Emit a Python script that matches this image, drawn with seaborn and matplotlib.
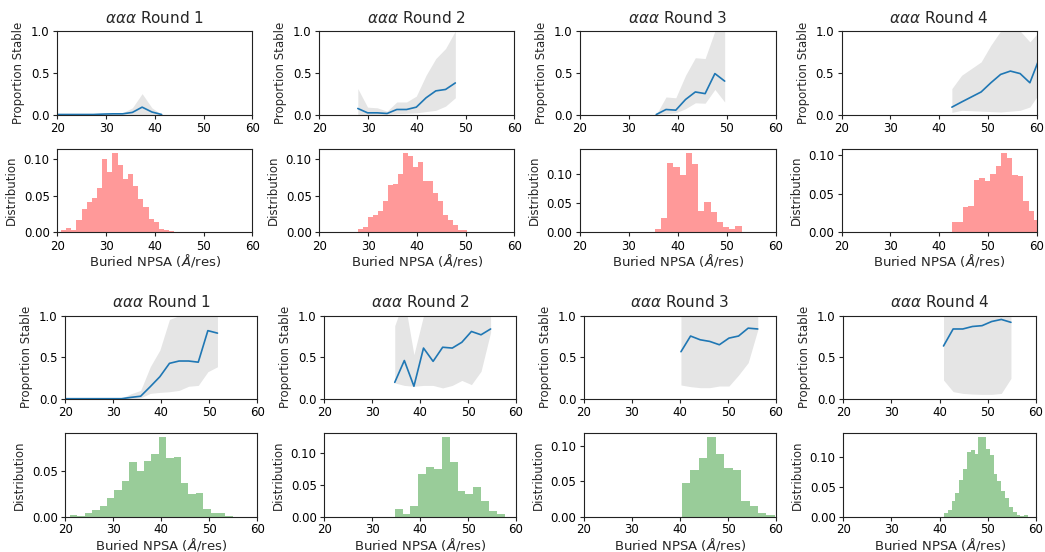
"""
Stability vs buried NPSA, four design rounds, two design sets.
Top pair of rows: red histograms; bottom pair: green histograms.
"""

import numpy as np
import pandas as pd
import matplotlib
matplotlib.use("Agg")
import matplotlib.pyplot as plt
import seaborn as sns

ROUNDS = ["Round 1", "Round 2", "Round 3", "Round 4"]
TOPOLOGY = r"$\alpha\alpha\alpha$"

# ---- top set: proportion stable (line + confidence band) ----
TOP_X = [
    [19.4, 21.4, 23.4, 25.4, 27.4, 29.4, 31.4, 33.4, 35.4, 37.4, 39.4, 41.4],
    [27.9, 29.9, 31.9, 33.9, 35.9, 37.9, 39.9, 41.9, 43.9, 45.9, 47.9],
    [35.6, 37.6, 39.6, 41.6, 43.6, 45.6, 47.6, 49.6],
    [42.6, 44.6, 46.6, 48.6, 50.6, 52.6, 54.6, 56.6, 58.6, 60.6],
]
TOP_MEAN = [
    [0, 0, 0, 0, 0, 0.005, 0.008, 0.008, 0.025, 0.088, 0.03, 0.0],
    [0.072, 0.02, 0.02, 0.012, 0.06, 0.06, 0.088, 0.20, 0.283, 0.30, 0.378],
    [0.0, 0.06, 0.052, 0.18, 0.27, 0.25, 0.49, 0.40],
    [0.088, 0.15, 0.21, 0.27, 0.38, 0.48, 0.52, 0.49, 0.38, 0.68],
]
TOP_HI = [
    [0, 0, 0, 0, 0, 0.01, 0.015, 0.02, 0.08, 0.25, 0.08, 0.0],
    [0.31, 0.088, 0.08, 0.04, 0.15, 0.15, 0.22, 0.47, 0.67, 0.79, 1.0],
    [0.0, 0.21, 0.20, 0.47, 0.68, 0.67, 1.0, 1.0],
    [0.31, 0.47, 0.55, 0.63, 0.83, 1.0, 1.0, 1.0, 0.87, 1.0],
]
TOP_LO = [
    [0] * 12,
    [0.0, 0.0, 0.0, 0.0, 0.01, 0.015, 0.02, 0.035, 0.05, 0.10, 0.2],
    [0.0, 0.01, 0.02, 0.07, 0.14, 0.135, 0.3, 0.15],
    [0.025, 0.05, 0.045, 0.04, 0.035, 0.03, 0.04, 0.05, 0.09, 0.26],
]

# ---- top set: NPSA distribution (normalised histograms) ----
TOP_BIN_START = [20.75, 28.0, 35.3, 42.65]
TOP_BIN_WIDTH = [1.057, 1.018, 1.27, 1.12]
TOP_HIST = [
    [0.003, 0.006, 0.003, 0.016, 0.032, 0.041, 0.047, 0.060, 0.100, 0.083, 0.109,
     0.092, 0.073, 0.080, 0.063, 0.046, 0.034, 0.018, 0.014, 0.004, 0.003, 0.001],
    [0.0045, 0.0064, 0.020, 0.023, 0.029, 0.043, 0.065, 0.066, 0.0795, 0.109, 0.105,
     0.090, 0.097, 0.071, 0.070, 0.054, 0.043, 0.023, 0.016, 0.009, 0.003, 0.003],
    [0.0057, 0.025, 0.119, 0.112, 0.098, 0.137, 0.118, 0.037, 0.052, 0.034, 0.017,
     0.0086, 0.0057, 0.0098],
    [0.013, 0.013, 0.032, 0.0345, 0.068, 0.070, 0.067, 0.0755, 0.086, 0.103, 0.097,
     0.074, 0.0725, 0.041, 0.027, 0.015],
]

# ---- bottom set: proportion stable ----
BOT_X = [
    [19.7, 21.7, 23.7, 25.7, 27.7, 29.7, 31.7, 33.7, 35.7, 37.7, 39.7, 41.7, 43.7,
     45.7, 47.7, 49.7, 51.7],
    [34.7, 36.7, 38.7, 40.7, 42.7, 44.7, 46.7, 48.7, 50.7, 52.7, 54.7],
    [40.2, 42.2, 44.2, 46.2, 48.2, 50.2, 52.2, 54.2, 56.2],
    [40.8, 42.8, 44.8, 46.8, 48.8, 50.8, 52.8, 54.8],
]
BOT_MEAN = [
    [0, 0, 0, 0, 0, 0, 0, 0.016, 0.03, 0.145, 0.265, 0.426, 0.454, 0.454, 0.44,
     0.82, 0.79],
    [0.197, 0.46, 0.15, 0.61, 0.45, 0.62, 0.61, 0.68, 0.81, 0.77, 0.84],
    [0.566, 0.755, 0.71, 0.69, 0.65, 0.73, 0.755, 0.85, 0.84],
    [0.635, 0.84, 0.84, 0.87, 0.88, 0.93, 0.955, 0.92],
]
BOT_HI = [
    [0, 0, 0, 0, 0, 0, 0.005, 0.06, 0.10, 0.385, 0.586, 0.955, 1.0, 1.0, 1.0,
     1.0, 1.0],
    [0.88, 1.2, 0.53, 1.0, 1.0, 1.0, 1.0, 1.0, 1.0, 1.0, 1.0],
    [1.0] * 9,
    [1.0] * 8,
]
BOT_LO = [
    [0, 0, 0, 0, 0, 0, 0, 0, 0.01, 0.064, 0.076, 0.084, 0.10, 0.15, 0.16,
     0.325, 0.385],
    [0.19, 0.16, 0.15, 0.16, 0.16, 0.13, 0.16, 0.22, 0.17, 0.33, 0.80],
    [0.165, 0.145, 0.133, 0.133, 0.153, 0.153, 0.285, 0.434, 0.83],
    [0.225, 0.085, 0.064, 0.056, 0.052, 0.052, 0.064, 0.245],
]

# ---- bottom set: NPSA distribution ----
BOT_BIN_START = [20.97, 34.7, 40.4, 40.9]
BOT_BIN_WIDTH = [1.543, 1.639, 1.76, 0.793]
BOT_HIST = [
    [0.002, 0.0005, 0.0036, 0.007, 0.012, 0.020, 0.0286, 0.039, 0.0596, 0.0496,
     0.0607, 0.068, 0.0868, 0.0636, 0.065, 0.0368, 0.0246, 0.0254, 0.0082, 0.0043,
     0.0043, 0.001],
    [0.0113, 0.005, 0.016, 0.067, 0.078, 0.075, 0.125, 0.086, 0.040, 0.0356, 0.047,
     0.024, 0.0088, 0.004],
    [0.048, 0.065, 0.0824, 0.112, 0.088, 0.0685, 0.066, 0.022, 0.0144, 0.0056, 0.003],
    [0.0056, 0.012, 0.027, 0.039, 0.062, 0.0805, 0.108, 0.112, 0.105, 0.134, 0.134,
     0.114, 0.104, 0.072, 0.060, 0.044, 0.032, 0.0167, 0.0078, 0.0028, 0.002, 0.0028],
]

W, H = 1045, 552

sns.set_style("ticks")
plt.rcParams.update({
    "font.family": ["DejaVu Sans"],
    "mathtext.fontset": "dejavusans",
    "axes.edgecolor": "#222222",
    "axes.linewidth": 0.8,
    "xtick.color": "#222222",
    "ytick.color": "#222222",
    "xtick.labelcolor": "black",
    "ytick.labelcolor": "black",
    "xtick.major.size": 3,
    "ytick.major.size": 3,
    "xtick.major.width": 0.8,
    "ytick.major.width": 0.8,
    "xtick.major.pad": 2.5,
    "ytick.major.pad": 2.5,
    "xtick.labelsize": 8.5,
    "ytick.labelsize": 8.5,
})


def px_axes(fig, left, top, right, bottom):
    """Add axes from pixel coordinates measured top-down."""
    return fig.add_axes([left / W, 1 - bottom / H, (right - left) / W, (bottom - top) / H])


def stability_panel(ax, x, mean, lo, hi, title):
    ax.fill_between(x, lo, hi, color="#e5e5e5", linewidth=0)
    sns.lineplot(x=x, y=mean, ax=ax, color="#1f77b4", linewidth=1.2)
    ax.set_xlim(20, 60)
    ax.set_ylim(0, 1)
    ax.set_xticks([20, 30, 40, 50, 60])
    ax.set_yticks([0, 0.5, 1.0])
    ax.set_ylabel("Proportion Stable", fontsize=8.5)
    ax.set_xlabel("")
    ax.set_title(TOPOLOGY + " " + title, fontsize=11)


def hist_panel(ax, start, width, heights, color, label_y, pad):
    n = len(heights)
    edges = (start + width * np.arange(n + 1)).tolist()
    df = pd.DataFrame({"npsa": [e + width / 2 for e in edges[:-1]], "dens": heights})
    sns.histplot(data=df, x="npsa", weights="dens", bins=edges, ax=ax,
                 color=color, alpha=0.4, linewidth=0, stat="count")
    ax.set_xlim(20, 60)
    ax.set_xticks([20, 30, 40, 50, 60])
    ax.tick_params(axis="x", pad=pad)
    ax.set_ylabel("Distribution", fontsize=8.5)
    ax.set_xlabel(r"Buried NPSA ($\AA$/res)", fontsize=9.5)
    ax.xaxis.set_label_coords(0.5, label_y)


fig = plt.figure(figsize=(W / 100, H / 100), dpi=100)

top_cols = [(57.3, 252.3), (319.3, 514.3), (580, 775.5), (841.7, 1036.7)]
bot_cols = [(65.3, 257.3), (324.3, 516), (584, 776), (843.3, 1036)]

for i in range(4):
    l, r = top_cols[i]
    ax = px_axes(fig, l, 31, r, 114.5)
    stability_panel(ax, TOP_X[i], TOP_MEAN[i], TOP_LO[i], TOP_HI[i], ROUNDS[i])
    ax = px_axes(fig, l, 149, r, 232)
    hist_panel(ax, TOP_BIN_START[i], TOP_BIN_WIDTH[i], TOP_HIST[i], "red", -0.235, 2.5)

    l, r = bot_cols[i]
    ax = px_axes(fig, l, 315.7, r, 398.7)
    stability_panel(ax, BOT_X[i], BOT_MEAN[i], BOT_LO[i], BOT_HI[i], ROUNDS[i])
    ax = px_axes(fig, l, 433, r, 516.7)
    hist_panel(ax, BOT_BIN_START[i], BOT_BIN_WIDTH[i], BOT_HIST[i], "green", -0.225, 1.5)

fig.savefig("out.png", dpi=100, facecolor="white")
